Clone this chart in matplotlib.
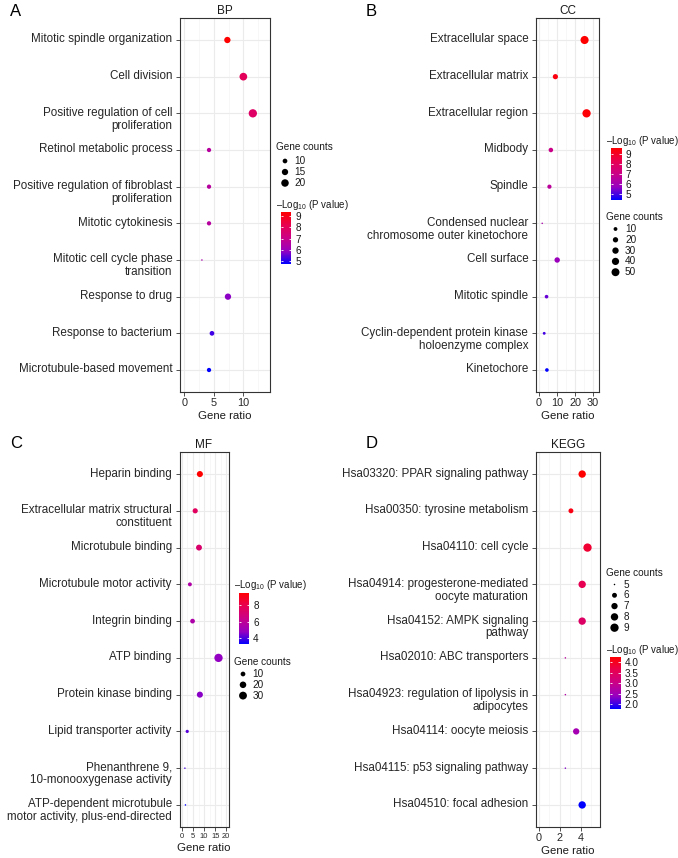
import numpy as np
import matplotlib
matplotlib.use('Agg')
import matplotlib.pyplot as plt
from matplotlib import transforms
from matplotlib.colors import LinearSegmentedColormap, Normalize
from matplotlib.cm import ScalarMappable

plt.rcParams['font.family'] = ['Liberation Sans', 'DejaVu Sans']
plt.rcParams['mathtext.fontset'] = 'custom'
plt.rcParams['mathtext.rm'] = 'Liberation Sans'

# ---- data ----
bp_terms = ['Mitotic spindle organization', 'Cell division',
            'Positive regulation of cell\nproliferation', 'Retinol metabolic process',
            'Positive regulation of fibroblast\nproliferation', 'Mitotic cytokinesis',
            'Mitotic cell cycle phase\ntransition', 'Response to drug',
            'Response to bacterium', 'Microtubule-based movement']
bp_ratio = [7.3, 10.0, 11.6, 4.2, 4.2, 4.2, 3.0, 7.4, 4.7, 4.2]
bp_count = [15, 21, 24, 9, 9, 9, 6, 15, 10, 9]
bp_logp = [9.37, 8.0, 7.8, 6.6, 6.6, 6.6, 6.3, 5.8, 5.2, 4.72]
bp_count_breaks = [10, 15, 20]
bp_logp_ticks = [5, 6, 7, 8, 9]

cc_terms = ['Extracellular space', 'Extracellular matrix', 'Extracellular region',
            'Midbody', 'Spindle', 'Condensed nuclear\nchromosome outer kinetochore',
            'Cell surface', 'Mitotic spindle',
            'Cyclin-dependent protein kinase\nholoenzyme complex', 'Kinetochore']
cc_ratio = [25.3, 9.1, 26.4, 6.6, 5.8, 1.8, 10.1, 4.2, 2.9, 4.4]
cc_count = [52, 19, 55, 14, 12, 4, 21, 9, 6, 9]
cc_logp = [9.56, 9.3, 9.45, 7.0, 6.6, 6.2, 5.8, 5.3, 5.0, 4.43]
cc_count_breaks = [10, 20, 30, 40, 50]
cc_logp_ticks = [5, 6, 7, 8, 9]

mf_terms = ['Heparin binding', 'Extracellular matrix structural\nconstituent',
            'Microtubule binding', 'Microtubule motor activity', 'Integrin binding',
            'ATP binding', 'Protein kinase binding', 'Lipid transporter activity',
            'Phenanthrene 9,\n10-monooxygenase activity',
            'ATP-dependent microtubule\nmotor activity, plus-end-directed']
mf_ratio = [8.1, 6.0, 7.7, 3.6, 4.8, 16.5, 8.1, 2.4, 1.35, 1.6]
mf_count = [17, 12, 16, 7, 10, 34, 17, 5, 3, 3]
mf_logp = [9.52, 7.6, 7.2, 5.6, 5.5, 4.8, 4.7, 4.2, 4.0, 3.28]
mf_count_breaks = [10, 20, 30]
mf_logp_ticks = [4, 6, 8]

kegg_terms = ['Hsa03320: PPAR signaling pathway', 'Hsa00350: tyrosine metabolism',
              'Hsa04110: cell cycle', 'Hsa04914: progesterone-mediated\noocyte maturation',
              'Hsa04152: AMPK signaling\npathway', 'Hsa02010: ABC transporters',
              'Hsa04923: regulation of lipolysis in\nadipocytes', 'Hsa04114: oocyte meiosis',
              'Hsa04115: p53 signaling pathway', 'Hsa04510: focal adhesion']
kegg_ratio = [4.15, 3.08, 4.66, 4.15, 4.15, 2.55, 2.55, 3.58, 2.55, 4.15]
kegg_count = [8, 6, 9, 8, 8, 5, 5, 7, 5, 8]
kegg_logp = [4.25, 4.1, 3.85, 3.6, 3.4, 2.8, 2.7, 2.55, 2.3, 1.76]
kegg_count_breaks = [5, 6, 7, 8, 9]
kegg_logp_ticks = [2.0, 2.5, 3.0, 3.5, 4.0]

W, H = 678, 858
fig = plt.figure(figsize=(W / 100, H / 100), dpi=100)

cmap = LinearSegmentedColormap.from_list(
    'blue_red', ['#0000FF', '#9700C0', '#CA0088', '#E80050', '#FF0000'])
TXT = '#1a1a1a'
AXTXT = '#262626'


def rect(l, t, r, b):
    return [l / W, 1 - b / H, (r - l) / W, (b - t) / H]


def dot_px(c, cmin, cmax):
    c = np.asarray(c, float)
    return 1.5 + 6.8 * np.sqrt((c - cmin) / (cmax - cmin))


# overlay in pixel coordinates for letters and legends
ov = fig.add_axes([0, 0, 1, 1])
ov.set_xlim(0, W)
ov.set_ylim(H, 0)
ov.axis('off')


def panel(box, title, terms, ratio, count, logp, xticks, xlim, tick_fs):
    ax = fig.add_axes(rect(*box))
    cmin, cmax = min(count), max(count)
    norm = Normalize(min(logp), max(logp))
    ax.scatter(ratio, terms, s=(dot_px(count, cmin, cmax) * 0.72) ** 2,
               c=logp, cmap=cmap, norm=norm, edgecolors='none', zorder=3)
    ax.set_ylim(len(terms) - 0.4, -0.6)
    ax.set_xticks(xticks)
    ax.set_xticks([(a + b) / 2 for a, b in zip(xticks[:-1], xticks[1:])] +
                  [xticks[-1] + (xticks[1] - xticks[0]) / 2], minor=True)
    ax.set_xlim(*xlim)
    ax.set_axisbelow(True)
    ax.grid(which='major', color='#EBEBEB', lw=0.8)
    ax.grid(which='minor', axis='x', color='#F4F4F4', lw=0.5)
    ax.tick_params(which='minor', length=0)
    ax.tick_params(which='major', length=3, width=0.6, color='#333333')
    ax.tick_params(axis='x', labelsize=tick_fs, labelcolor=AXTXT, pad=1.5)
    ax.tick_params(axis='y', labelleft=False)
    for s in ax.spines.values():
        s.set_color('#333333')
        s.set_linewidth(0.8)
    # category labels, first line centred on the tick
    tr = transforms.offset_copy(
        transforms.blended_transform_factory(ax.transAxes, ax.transData),
        fig=fig, x=-5.5, y=0.56 * 8.4, units='points')
    for i, t in enumerate(terms):
        ax.text(0, i, t, transform=tr, ha='right', va='top', fontsize=8.4,
                color=AXTXT, linespacing=1.08, multialignment='right')
    ax.set_title(title, fontsize=8.5, color=TXT, pad=3)
    ax.set_xlabel('Gene ratio', fontsize=8.2, color=TXT, labelpad=2)
    return ax, cmin, cmax, norm


def size_legend(x, y, breaks, cmin, cmax, first=12, step=10.8):
    ov.text(x, y, 'Gene counts', fontsize=7.2, color=TXT, va='center', ha='left')
    ys = [y + first + step * k for k in range(len(breaks))]
    ov.scatter([x + 9] * len(breaks), ys, s=(dot_px(breaks, cmin, cmax) * 0.72) ** 2,
               c='black', edgecolors='none')
    for yy, b in zip(ys, breaks):
        ov.text(x + 18.5, yy, str(b), fontsize=7.2, color=TXT, va='center', ha='left')


def color_legend(x, y, norm, ticks, fmt='{:g}'):
    ov.text(x, y, '\u2013Log$_{10}$ (P value)', fontsize=7.0, color=TXT,
            va='center', ha='left')
    cax = fig.add_axes(rect(x + 4.5, y + 7, x + 15, y + 59))
    cb = fig.colorbar(ScalarMappable(norm=norm, cmap=cmap), cax=cax)
    cb.outline.set_visible(False)
    cb.set_ticks(ticks)
    cb.set_ticklabels([fmt.format(t) for t in ticks])
    cax.tick_params(length=0, labelsize=7.2, labelcolor=TXT, pad=3)
    cax.hlines(ticks, 0, 0.2, color='white', lw=0.6)
    cax.hlines(ticks, 0.8, 1, color='white', lw=0.6)


# A: BP
ax, cmin, cmax, norm = panel((180, 18, 270, 392), 'BP', bp_terms, bp_ratio, bp_count,
                             bp_logp, [0, 5, 10], (-0.7, 14.5), 7.8)
size_legend(276, 147, bp_count_breaks, cmin, cmax, first=14, step=11)
color_legend(276, 205, norm, bp_logp_ticks)

# B: CC
ax, cmin, cmax, norm = panel((536, 18, 599, 392), 'CC', cc_terms, cc_ratio, cc_count,
                             cc_logp, [0, 10, 20, 30], (-1.65, 33.3), 7.8)
color_legend(606.5, 141, norm, cc_logp_ticks)
size_legend(606.5, 217, cc_count_breaks, cmin, cmax)

# C: MF
ax, cmin, cmax, norm = panel((179.5, 452, 228.5, 827), 'MF', mf_terms, mf_ratio, mf_count,
                             mf_logp, [0, 5, 10, 15, 20], (-1.08, 21.0), 5.4)
color_legend(234, 585.5, norm, mf_logp_ticks)
size_legend(234, 662, mf_count_breaks, cmin, cmax)

# D: KEGG
ax, cmin, cmax, norm = panel((536, 452, 600, 827), 'KEGG', kegg_terms, kegg_ratio, kegg_count,
                             kegg_logp, [0, 2, 4], (-0.25, 5.85), 7.8)
size_legend(605.5, 572.5, kegg_count_breaks, cmin, cmax)
color_legend(605.5, 650, norm, kegg_logp_ticks, fmt='{:.1f}')

for letter, x, y in [('A', 10, 12), ('B', 366, 12), ('C', 10, 444), ('D', 366, 444)]:
    ov.text(x, y, letter, fontsize=12, color='black', va='center', ha='left')

fig.savefig('out.png', dpi=100)
